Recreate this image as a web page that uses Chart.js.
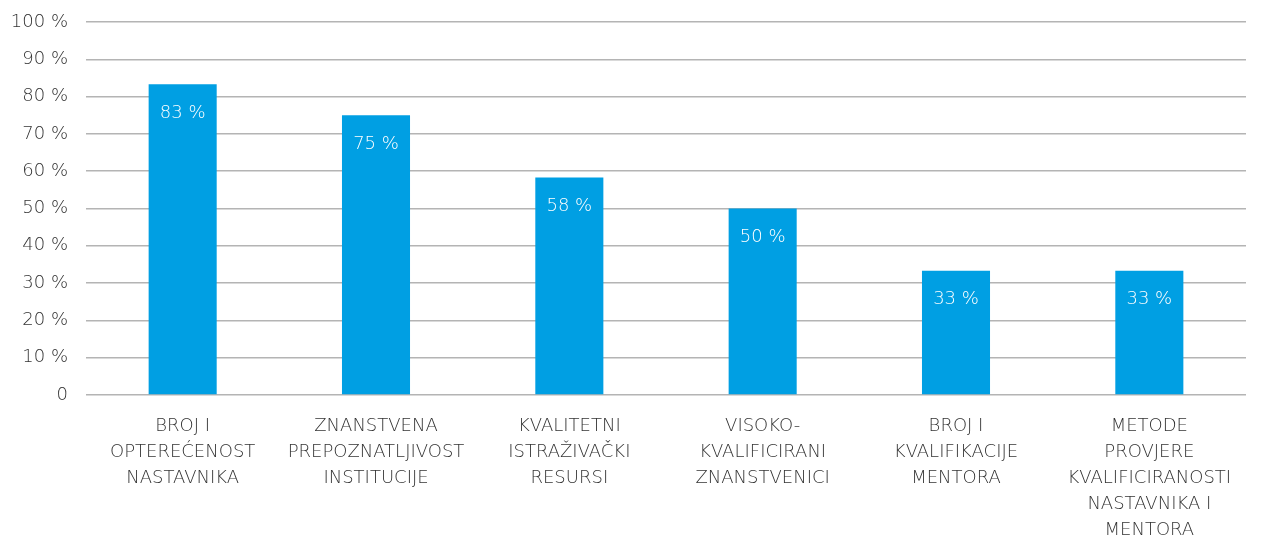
<!DOCTYPE html>
<html>
<head>
<meta charset="utf-8">
<script src="https://cdn.jsdelivr.net/npm/chart.js@4/dist/chart.umd.min.js"></script>
<style>
  html, body { margin: 0; padding: 0; background: #fff; }
  #wrap { width: 1272px; height: 536px; }
</style>
</head>
<body>
<div id="wrap"><canvas id="grafica"></canvas></div>
<script>
const kategorije = [
  ["BROJ I", "OPTEREĆENOST", "NASTAVNIKA"],
  ["ZNANSTVENA", "PREPOZNATLJIVOST", "INSTITUCIJE"],
  ["KVALITETNI", "ISTRAŽIVAČKI", "RESURSI"],
  ["VISOKO-", "KVALIFICIRANI", "ZNANSTVENICI"],
  ["BROJ I", "KVALIFIKACIJE", "MENTORA"],
  ["METODE", "PROVJERE", "KVALIFICIRANOSTI", "NASTAVNIKA I", "MENTORA"]
];
const vrijednosti = [83.3, 75, 58.3, 50, 33.3, 33.3];
const oznake = ["83 %", "75 %", "58 %", "50 %", "33 %", "33 %"];

const font = "'DejaVu Sans', sans-serif";
const siva = "#333333";

// oznake unutar stupaca
const oznakePlugin = {
  id: "oznake",
  afterDatasetsDraw(chart) {
    const c = chart.ctx;
    const meta = chart.getDatasetMeta(0);
    c.save();
    c.fillStyle = "#ffffff";
    c.font = "200 18px " + font;
    c.textAlign = "center";
    c.textBaseline = "middle";
    meta.data.forEach((bar, i) => {
      c.fillText(oznake[i], bar.x, bar.y + 29);
    });
    c.restore();
  }
};

const ctx = document.getElementById("grafica").getContext("2d");

const chart = new Chart(ctx, {
  type: "bar",
  data: {
    labels: kategorije,
    datasets: [{
      data: vrijednosti,
      backgroundColor: "#009fe3",
      categoryPercentage: 1,
      barPercentage: 0.352
    }]
  },
  options: {
    responsive: true,
    maintainAspectRatio: false,
    animation: false,
    layout: { padding: { top: 22, right: 26, left: 0, bottom: 0 } },
    plugins: { legend: { display: false }, tooltip: { enabled: false } },
    scales: {
      x: {
        grid: { display: false, drawTicks: false },
        border: { display: false },
        ticks: {
          color: siva,
          padding: 18,
          maxRotation: 0,
          autoSkip: false,
          font: { family: font, size: 18, weight: 200, lineHeight: 1.45 }
        },
        afterFit(scale) {
          scale.height = 141;
          scale.paddingLeft = 0;
          scale.paddingRight = 0;
        }
      },
      y: {
        min: 0,
        max: 100,
        grid: { color: "#b4b4b4", lineWidth: 1.5, drawTicks: false },
        border: { display: false },
        ticks: {
          stepSize: 10,
          color: siva,
          padding: 18,
          font: { family: font, size: 18, weight: 200 },
          callback: v => v === 0 ? "0" : v + " %"
        },
        afterFit(scale) {
          scale.width = 86;
          scale.paddingTop = 0;
          scale.paddingBottom = 0;
        }
      }
    }
  },
  plugins: [oznakePlugin]
});
</script>
</body>
</html>
